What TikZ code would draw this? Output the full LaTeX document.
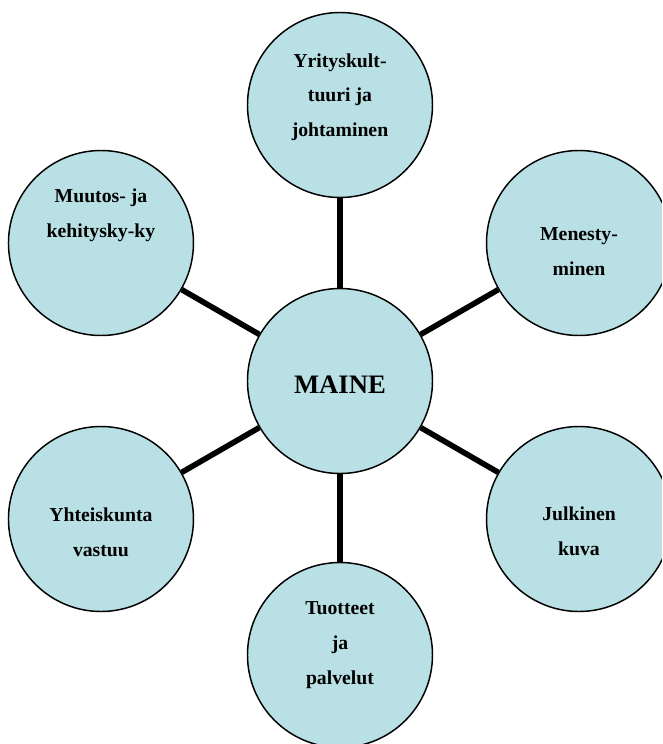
\documentclass[tikz,border=0pt]{standalone}
\usepackage{fontspec}
\setmainfont{Liberation Serif}
\definecolor{pallovari}{RGB}{185,224,228}

\begin{document}
\begin{tikzpicture}[
    x=0.75pt, y=0.75pt,
    ball/.style={circle, draw, line width=1.1pt, fill=pallovari,
                 minimum size=138.75pt, inner sep=0pt},
    caption/.style={font=\fontsize{14.8}{26}\selectfont\bfseries, align=center},
    hubtext/.style={font=\fontsize{20}{24}\selectfont\bfseries},
    spoke/.style={line width=4.2pt}
]
\useasboundingbox (-340,-363) rectangle (322,381);
\clip (-340,-363) rectangle (322,381);

\node[ball] (maine) at (0,0) {};
\node[ball] (kulttuuri) at (90:276) {};
\node[ball] (menestys) at (30:276) {};
\node[ball] (julkinen) at (-30:276) {};
\node[ball] (tuotteet) at (-90:274) {};
\node[ball] (vastuu) at (-150:276) {};
\node[ball] (muutos) at (150:276) {};

\draw[spoke] (maine) -- (kulttuuri);
\draw[spoke] (maine) -- (menestys);
\draw[spoke] (maine) -- (julkinen);
\draw[spoke] (maine) -- (tuotteet);
\draw[spoke] (maine) -- (vastuu);
\draw[spoke] (maine) -- (muutos);

% tekstit
\node[hubtext] (maine-t) at ([yshift=-3pt]maine.center) {MAINE};
\node[caption] (kulttuuri-t) at ([yshift=6pt]kulttuuri.center) {Yrityskult-\\tuuri ja\\johtaminen};
\node[caption] (menestys-t) at ([yshift=-6.4pt]menestys.center) {Menesty-\\minen};
\node[caption] (julkinen-t) at ([yshift=-9.4pt]julkinen.center) {Julkinen\\kuva};
\node[caption] (tuotteet-t) at ([yshift=7.5pt]tuotteet.center) {Tuotteet\hspace{0.7em}\\ja\\palvelut};
\node[caption] (vastuu-t) at ([yshift=-10pt]vastuu.center) {Yhteiskunta\\vastuu};
\node[caption] (muutos-t) at ([yshift=21pt]muutos.center) {Muutos- ja\\kehitysky-ky};
\end{tikzpicture}
\end{document}
